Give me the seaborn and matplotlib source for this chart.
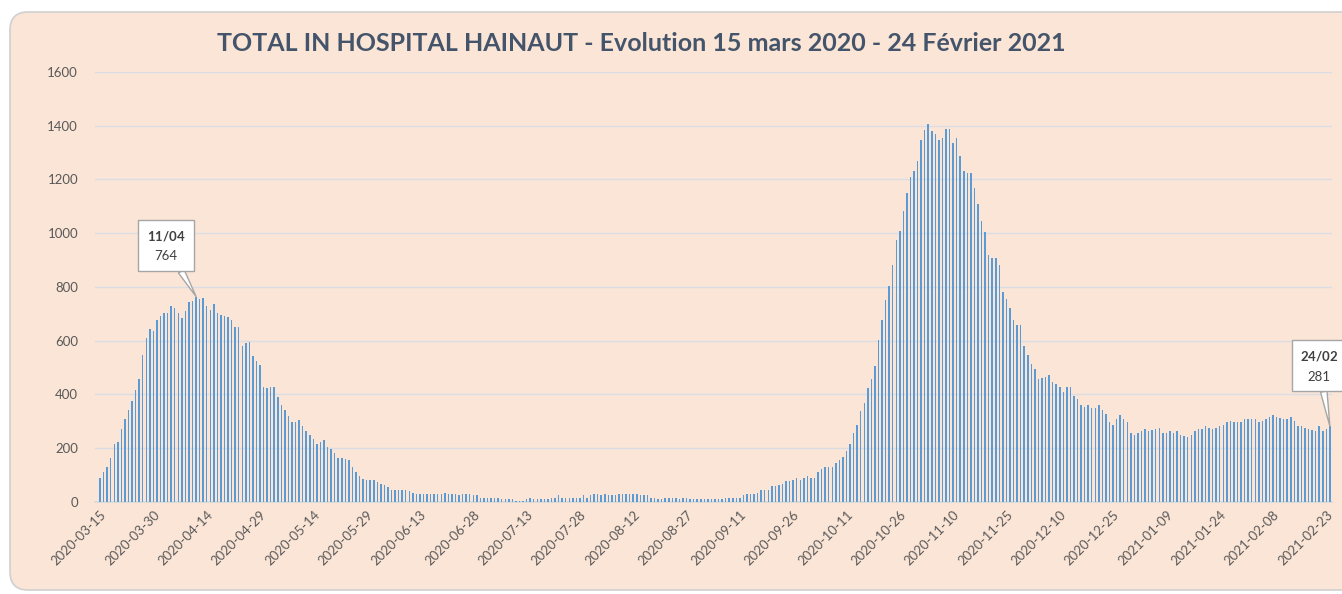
import matplotlib
matplotlib.use("Agg")
import pandas as pd
import seaborn as sns
from matplotlib import pyplot as plt
from matplotlib.patches import FancyBboxPatch

# daily totals in hospital, 15 mars 2020 -> 24 fevrier 2021
start_date = "2020-03-15"
end_date = "2021-02-24"
in_hospital = [
    87, 111, 131, 164, 215, 221, 270, 307, 340, 374,
    417, 456, 547, 609, 643, 634, 678, 690, 701, 701,
    730, 721, 701, 683, 711, 744, 748, 764, 754, 760,
    730, 715, 735, 701, 695, 690, 688, 678, 649, 649,
    581, 591, 596, 544, 525, 510, 427, 422, 427, 427,
    389, 361, 341, 320, 297, 297, 303, 282, 264, 249,
    235, 215, 221, 230, 205, 197, 182, 162, 162, 158,
    154, 128, 110, 95, 85, 81, 81, 81, 74, 67,
    61, 56, 42, 42, 42, 42, 42, 38, 34, 27,
    27, 27, 27, 27, 27, 27, 30, 32, 27, 27,
    27, 24, 27, 29, 27, 26, 24, 14, 14, 14,
    14, 14, 14, 9, 9, 9, 9, 4, 3, 4,
    9, 14, 9, 9, 9, 9, 9, 14, 14, 24,
    14, 14, 14, 14, 14, 14, 24, 14, 24, 29,
    29, 24, 29, 24, 24, 24, 29, 29, 29, 29,
    29, 29, 24, 24, 24, 14, 14, 9, 9, 14,
    14, 14, 14, 9, 14, 14, 9, 9, 10, 10,
    10, 10, 10, 10, 10, 10, 15, 15, 15, 15,
    15, 24, 29, 29, 29, 34, 44, 44, 44, 59,
    59, 62, 67, 77, 77, 82, 87, 82, 87, 96,
    87, 87, 111, 120, 129, 129, 129, 144, 154, 168,
    187, 215, 255, 284, 336, 369, 423, 456, 505, 601,
    678, 750, 802, 883, 975, 1009, 1081, 1148, 1210, 1230,
    1269, 1346, 1384, 1407, 1379, 1369, 1346, 1353, 1388, 1388,
    1336, 1355, 1287, 1230, 1225, 1225, 1168, 1110, 1047, 1004,
    918, 908, 908, 883, 779, 754, 720, 677, 658, 658,
    581, 546, 514, 494, 456, 461, 465, 470, 446, 437,
    427, 408, 427, 427, 393, 383, 359, 354, 359, 349,
    349, 359, 341, 326, 297, 287, 307, 321, 307, 297,
    254, 249, 254, 264, 269, 264, 266, 269, 274, 254,
    254, 264, 254, 264, 249, 245, 240, 249, 264, 269,
    269, 282, 274, 269, 275, 282, 287, 297, 302, 297,
    297, 297, 307, 307, 307, 307, 297, 302, 307, 316,
    321, 316, 312, 307, 307, 316, 302, 282, 282, 274,
    269, 266, 264, 282, 264, 270, 281,
]
callout_days = ["2020-04-11", "2021-02-24"]
callout_labels = ["11/04", "24/02"]
title = "TOTAL IN HOSPITAL HAINAUT - Evolution 15 mars 2020 - 24 Février 2021"

days = pd.date_range(start_date, end_date, freq="D").strftime("%Y-%m-%d").tolist()
df = pd.DataFrame({"day": days, "total": in_hospital})
tick_pos = list(range(0, len(days), 15))
tick_days = [days[i] for i in tick_pos]

sns.set_theme(style="white")
plt.rcParams["font.family"] = ["Lato", "DejaVu Sans"]
plt.rcParams["mathtext.fontset"] = "custom"
plt.rcParams["mathtext.rm"] = "Lato"
plt.rcParams["mathtext.bf"] = "Lato:bold"

fig = plt.figure(figsize=(13.42, 5.94), dpi=100)
fig.patch.set_facecolor("white")
frame = FancyBboxPatch((0.1, 0.04), 13.6, 5.78,
                       boxstyle="round,pad=0,rounding_size=0.18",
                       transform=fig.dpi_scale_trans,
                       facecolor="#FBE5D6", edgecolor="#D0D0D0",
                       linewidth=1.2, zorder=-5)
fig.patches.append(frame)

ax = fig.add_axes([0.0706, 0.1554, 0.9217, 0.7234])
ax.set_facecolor("none")
sns.barplot(data=df, x="day", y="total", color="#5B9BD5", width=0.42,
            saturation=1, linewidth=0, ax=ax, zorder=3)

ax.set_xlim(-1.5, len(days) - 0.5)
ax.set_ylim(0, 1600)
ax.set_yticks(range(0, 1601, 200))
ax.yaxis.grid(True, color="#DADDE3", linewidth=1)
ax.set_axisbelow(True)
ax.set_xticks(tick_pos)
ax.set_xticklabels(tick_days, rotation=45, ha="right", rotation_mode="anchor")
ax.tick_params(axis="both", length=0, labelsize=9.5, colors="#595959")
ax.tick_params(axis="y", pad=12)
ax.tick_params(axis="x", pad=5)
ax.set(xlabel=None, ylabel=None)
for side in ["top", "right", "left"]:
    ax.spines[side].set_visible(False)
ax.spines["bottom"].set_color("#D9D9D9")

# callouts
offsets = [(-8.4, 190), (-3.0, 225)]
for day, lab, (dx, dy) in zip(callout_days, callout_labels, offsets):
    i = days.index(day)
    v = in_hospital[i]
    ax.annotate(r"$\mathbf{" + lab + "}$" + "\n" + str(v),
                xy=(i, v), xytext=(i + dx, v + dy),
                ha="center", va="center", fontsize=9.5, color="#404040",
                linespacing=1.75, annotation_clip=False, zorder=6,
                bbox=dict(boxstyle="square,pad=0.65", fc="white", ec="#A6A6A6", lw=1),
                arrowprops=dict(arrowstyle="wedge,tail_width=0.5,shrink_factor=0.5",
                                fc="white", ec="#A6A6A6", lw=1,
                                shrinkA=0, shrinkB=0))

fig.text(0.478, 0.926, title, ha="center", va="center", fontsize=18,
         fontweight="bold", color="#44546A")

fig.savefig("out.png", dpi=100)
